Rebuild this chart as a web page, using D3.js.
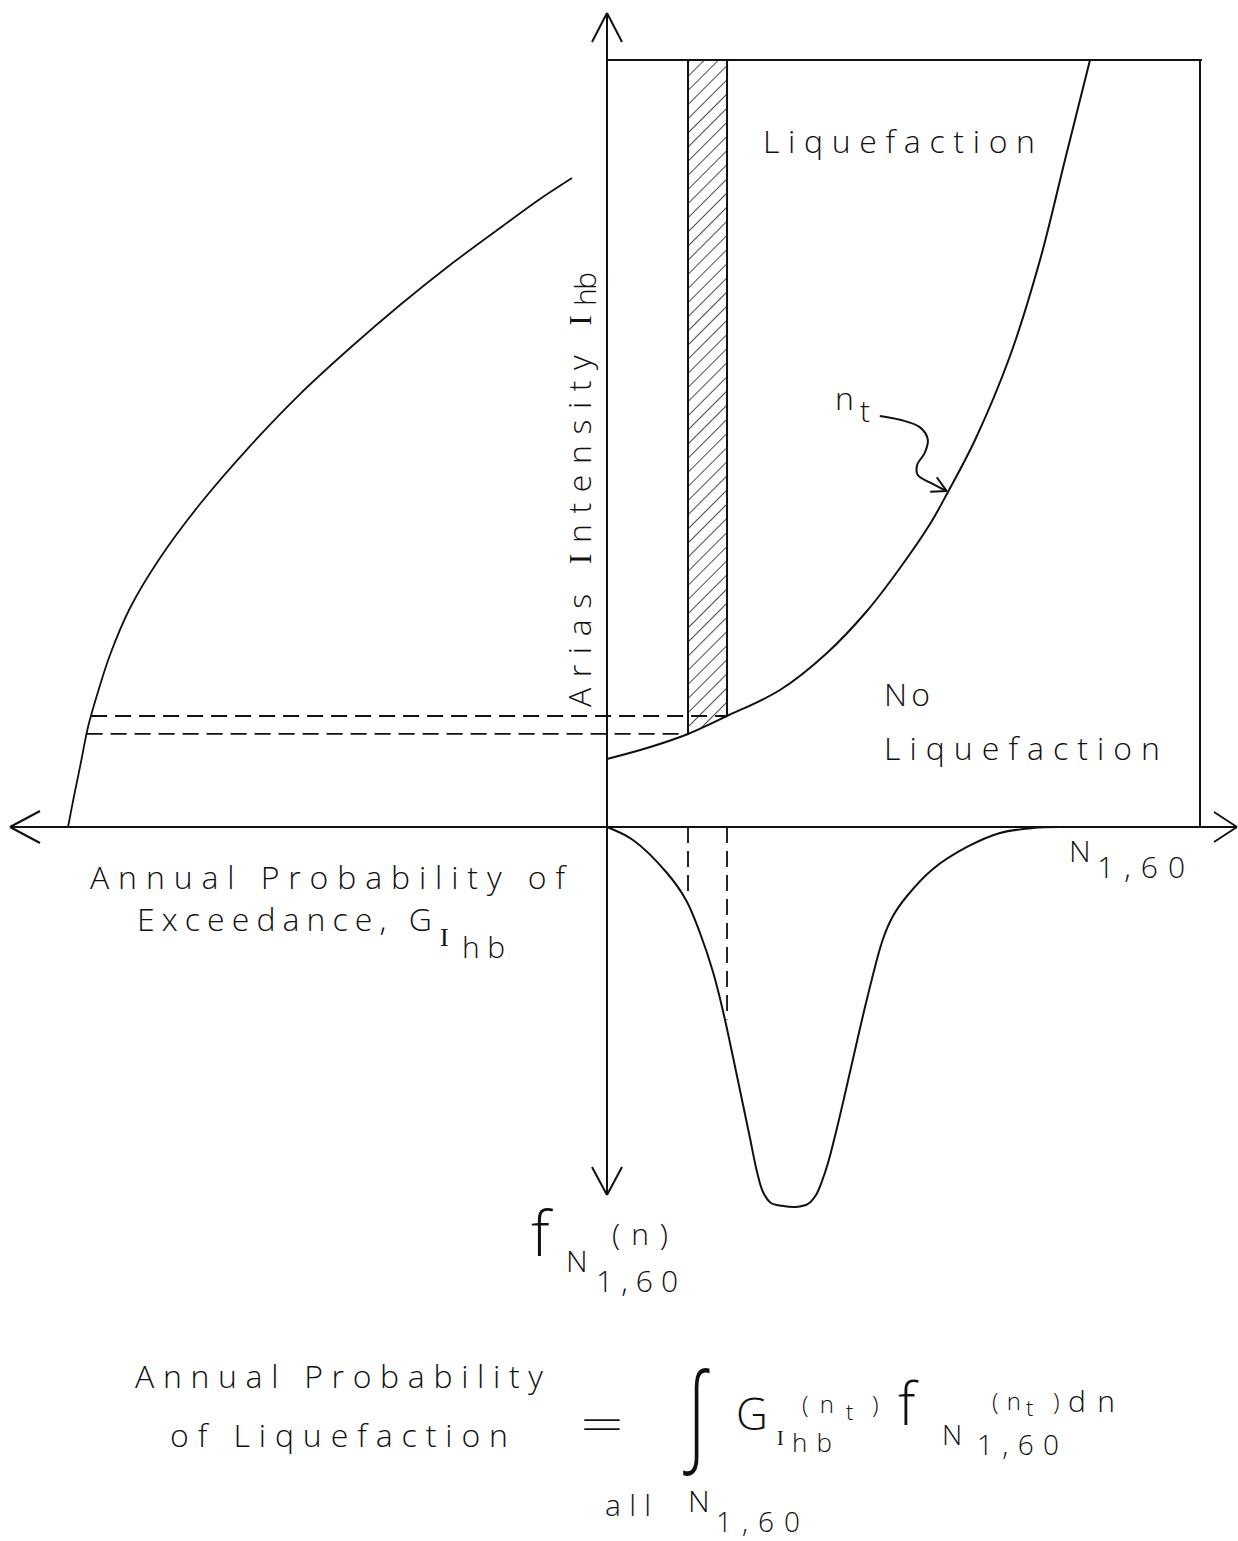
<!DOCTYPE html>
<html><head><meta charset="utf-8">
<script src="https://cdn.jsdelivr.net/npm/d3@7"></script>
<style>
html,body{margin:0;padding:0;background:#fff;}
svg{display:block;}
text{font-family:"Open Sans","DejaVu Sans",sans-serif;font-weight:300;fill:#111;}
.serifI{font-family:"Liberation Serif","DejaVu Serif",serif;font-weight:400;}
</style></head><body>
<svg id="c" width="1238" height="1541"></svg>
<script>
// ---------- data (schematic values) ----------
// Threshold curve n_t : N1,60 (0-100 along right axis) vs Arias intensity (0-100 up)
const thresholdN = [0, 6.75, 13.66, 20.24, 29.17, 37.10, 43.84, 49.41, 54.47, 57.50, 62.06, 67.96, 73.02, 77.23, 81.45];
const thresholdI = [8.87, 10.30, 12.13, 14.47, 17.86, 22.69, 28.16, 33.77, 39.50, 43.68, 50.46, 61.41, 73.92, 86.96, 100];
// Hazard curve: annual probability of exceedance G (0-100 to the left) vs intensity
const hazardG = [99.81, 98.70, 97.41, 96.11, 94.44, 92.04, 88.33, 82.78, 75.37, 66.11, 56.85, 47.59, 38.33, 29.07, 19.81, 12.41, 6.48];
const hazardI = [0, 4.04, 8.47, 13.04, 17.21, 22.43, 28.55, 35.07, 42.11, 49.67, 56.45, 62.45, 68.06, 73.27, 78.10, 81.88, 84.62];
// Density of N1,60 (plotted downward)
const densityN = [0, 4.38, 10.12, 13.32, 15.68, 17.88, 19.56, 21.25, 22.77, 24.11, 25.30, 26.31, 27.66, 29.51, 31.87, 33.90, 35.24, 36.26, 37.27, 38.62, 40.13, 41.48, 43.84, 46.54, 48.23, 50.59, 54.97, 60.71, 66.27, 71.84, 76.39];
const densityF = [0, 3.42, 12.11, 19.21, 27.89, 38.16, 48.42, 60.53, 71.84, 81.84, 90.79, 96.05, 98.95, 99.7, 100, 99.2, 96.84, 93.16, 88.42, 80.26, 70.26, 61.05, 45.26, 29.47, 23.42, 18.16, 11.05, 5.26, 1.58, 0.26, 0];
// Hatched band dn
const bandN = [13.66, 20.24];
// Annotation arrow to n_t (N, I)
const pointerN = [46.0, 49.4, 52.8, 54.1, 53.6, 52.3, 52.4, 54.5, 57.3];
const pointerI = [53.6, 53.1, 52.1, 50.5, 48.8, 47.2, 45.9, 44.9, 43.8];

// ---------- scales ----------
const xN = d3.scaleLinear().domain([0, 100]).range([607, 1200]);
const yI = d3.scaleLinear().domain([0, 100]).range([827, 60]);
const xG = d3.scaleLinear().domain([0, 100]).range([607, 67]);
const yF = d3.scaleLinear().domain([0, 100]).range([827, 1207]);

function interp(xs, ys, x) {
  for (let i = 0; i < xs.length - 1; i++) {
    const a = xs[i], b = xs[i + 1];
    if ((x >= a && x <= b) || (x <= a && x >= b)) {
      const t = (x - a) / (b - a);
      return ys[i] + t * (ys[i + 1] - ys[i]);
    }
  }
  return ys[ys.length - 1];
}

const svg = d3.select('#c');
const ink = '#111';
const X0 = xN(0), Y0 = yI(0);
const smooth = d3.curveCatmullRom.alpha(0.5);

function line(x1, y1, x2, y2, w, dash) {
  const l = svg.append('line').attr('x1', x1).attr('y1', y1).attr('x2', x2).attr('y2', y2)
    .attr('stroke', ink).attr('stroke-width', w || 2).attr('stroke-linecap', 'butt');
  if (dash) l.attr('stroke-dasharray', dash);
  return l;
}
function txt(x, y, s, size, len, extra) {
  const t = svg.append('text').attr('x', x).attr('y', y).attr('font-size', size).text(s);
  if (len) t.attr('textLength', len).attr('lengthAdjust', 'spacing');
  if (extra) extra(t);
  return t;
}

// ---------- hatch pattern ----------
const defs = svg.append('defs');
const pat = defs.append('pattern').attr('id', 'hatch').attr('patternUnits', 'userSpaceOnUse')
  .attr('width', 10).attr('height', 10).attr('patternTransform', 'rotate(45)');
pat.append('line').attr('x1', 0).attr('y1', 0).attr('x2', 0).attr('y2', 10)
  .attr('stroke', ink).attr('stroke-width', 1.5);

const thrPts = thresholdN.map((n, i) => [n, thresholdI[i]]);
const areaAbove = d3.area().x(d => xN(d[0])).y0(yI(100)).y1(d => yI(d[1])).curve(smooth);
defs.append('clipPath').attr('id', 'aboveCurve').append('path').attr('d', areaAbove(thrPts));

svg.append('rect').attr('x', xN(bandN[0])).attr('y', yI(100))
  .attr('width', xN(bandN[1]) - xN(bandN[0])).attr('height', yI(0) - yI(100))
  .attr('fill', 'url(#hatch)').attr('clip-path', 'url(#aboveCurve)');

// ---------- axes with arrows ----------
line(10, Y0, 1237, Y0, 2);
line(X0, 13, X0, 1195, 2);
line(10, Y0, 40, Y0 - 16, 2); line(10, Y0, 40, Y0 + 16, 2);
line(1237, Y0, 1214, Y0 - 15, 2); line(1237, Y0, 1214, Y0 + 15, 2);
line(X0, 13, X0 - 15, 42, 2); line(X0, 13, X0 + 15, 42, 2);
line(X0, 1195, X0 - 15, 1167, 2); line(X0, 1195, X0 + 15, 1167, 2);

// frame of the liquefaction chart
line(X0, yI(100), xN(100) + 2, yI(100), 2.2);
line(xN(100), yI(100), xN(100), Y0, 2);

// band edges
bandN.forEach(n => {
  line(xN(n), yI(100), xN(n), yI(interp(thresholdN, thresholdI, n)), 2);
});

// ---------- curves ----------
const thrLine = d3.line().x(d => xN(d[0])).y(d => yI(d[1])).curve(smooth);
svg.append('path').attr('d', thrLine(thrPts)).attr('fill', 'none').attr('stroke', ink).attr('stroke-width', 2);

const hazPts = hazardG.map((g, i) => [g, hazardI[i]]);
const hazLine = d3.line().x(d => xG(d[0])).y(d => yI(d[1])).curve(smooth);
svg.append('path').attr('d', hazLine(hazPts)).attr('fill', 'none').attr('stroke', ink).attr('stroke-width', 1.8);

const denPts = densityN.map((n, i) => [n, densityF[i]]);
const denLine = d3.line().x(d => xN(d[0])).y(d => yF(d[1])).curve(smooth);
svg.append('path').attr('d', denLine(denPts)).attr('fill', 'none').attr('stroke', ink).attr('stroke-width', 2);

// ---------- dashed projection lines ----------
const dash = '16,8';
bandN.forEach(n => {
  const iv = interp(thresholdN, thresholdI, n);
  const g = interp(hazardI, hazardG, iv);
  line(xG(g), yI(iv), xN(n), yI(iv), 1.8, dash);
  const f = interp(densityN, densityF, n);
  line(xN(n), Y0, xN(n), yF(f) - 10, 1.8, dash);
});

// ---------- n_t pointer ----------
const ptrPts = pointerN.map((n, i) => [n, pointerI[i]]);
const ptrLine = d3.line().x(d => xN(d[0])).y(d => yI(d[1])).curve(smooth);
svg.append('path').attr('d', ptrLine(ptrPts)).attr('fill', 'none').attr('stroke', ink).attr('stroke-width', 2);
const tip = ptrPts[ptrPts.length - 1];
line(xN(tip[0]), yI(tip[1]), xN(54.5), yI(43.7), 2);
line(xN(tip[0]), yI(tip[1]), xN(55.6), yI(45.6), 2);

// ---------- labels ----------
txt(763, 153, 'Liquefaction', 32, 272);
txt(884, 706, 'No', 32, 46);
txt(884, 760, 'Liquefaction', 32, 276);
txt(835, 410, 'n', 32);
txt(860, 422, 't', 30);

txt(1069, 862, 'N', 30);
txt(1097, 878, '1,60', 30, 88);

txt(90, 889, 'Annual Probability of', 32, 475);
txt(137, 931, 'Exceedance, G', 32, 295);
txt(440, 946, 'I', 26, null, t => t.attr('class', 'serifI'));
txt(462, 958, 'hb', 30, 43);

const ax = svg.append('text').attr('transform', 'translate(591,707) rotate(-90)').attr('font-size', 32)
  .attr('textLength', 392).attr('lengthAdjust', 'spacing');
ax.append('tspan').text('Arias ');
ax.append('tspan').attr('class', 'serifI').text('I');
ax.append('tspan').text('ntensity ');
ax.append('tspan').attr('class', 'serifI').text('I');
svg.append('text').attr('transform', 'translate(596,306) rotate(-90)').attr('font-size', 30)
  .attr('textLength', 34).attr('lengthAdjust', 'spacing').text('hb');

// density label
txt(531, 1256, 'f', 62);
txt(612, 1245, '(n)', 30, 56);
txt(566, 1272, 'N', 30);
txt(596, 1292, '1,60', 30, 82);

// formula
txt(135, 1388, 'Annual Probability', 32, 408);
txt(170, 1447, 'of Liquefaction', 32, 338);
svg.append('text').attr('x', 580).attr('y', 1440).attr('font-size', 44)
  .attr('textLength', 44).attr('lengthAdjust', 'spacingAndGlyphs').text('=');
svg.append('text').attr('transform', 'translate(683,1450) scale(0.95,1.35)')
  .attr('font-size', 80).attr('font-family', 'DejaVu Sans').attr('font-weight', 200).text('∫');
txt(736, 1430, 'G', 44);
txt(777, 1445, 'I', 20, null, t => t.attr('class', 'serifI'));
txt(792, 1452, 'hb', 26, 40);
txt(802, 1413, '(n', 24, 32);
txt(846, 1420, 't', 22);
txt(872, 1413, ')', 24);
txt(898, 1425, 'f', 58);
txt(942, 1445, 'N', 28);
txt(992, 1410, '(n', 24, 29);
txt(1026, 1416, 't', 22);
txt(1053, 1410, ')', 24);
txt(1068, 1412, 'dn', 30, 47);
txt(977, 1455, '1,60', 28, 82);

txt(605, 1516, 'all', 30, 46);
txt(688, 1512, 'N', 30);
txt(716, 1532, '1,60', 28, 84);
</script>
</body></html>
